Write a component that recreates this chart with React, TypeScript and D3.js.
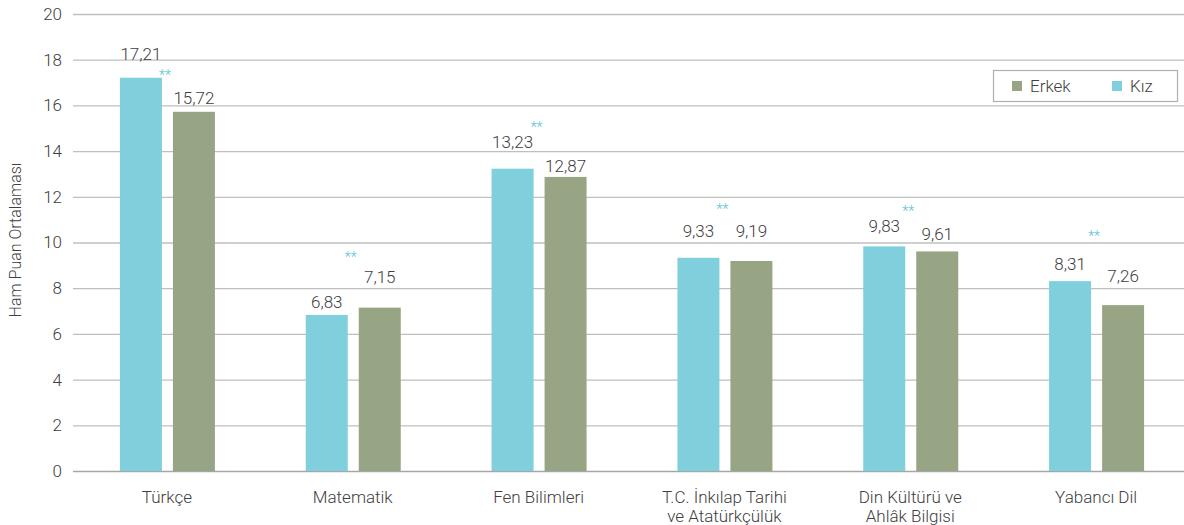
import React, { useEffect, useRef } from "react";
import * as d3 from "d3";

const categories = [
    ["Türkçe"],
    ["Matematik"],
    ["Fen Bilimleri"],
    ["T.C. İnkılap Tarihi", "ve Atatürkçülük"],
    ["Din Kültürü ve", "Ahlâk Bilgisi"],
    ["Yabancı Dil"],
];
const kizValues = [17.21, 6.83, 13.23, 9.33, 9.83, 8.31];
const erkekValues = [15.72, 7.15, 12.87, 9.19, 9.61, 7.26];
// where the "**" marks sit, in score units
const starLevels = [17.42, 9.45, 15.14, 11.55, 11.47, 10.37];
const yTicks = [0, 2, 4, 6, 8, 10, 12, 14, 16, 18, 20];

// hand-placed label lifts (px above bar top)
const kizLift = [18, 7, 21, 21, 14, 11];
const erkekLift = [8, 25, 5, 24, 11, 23];

const KIZ = "#7fd0dc";
const ERKEK = "#98a584";
const FONT = "Roboto, 'Noto Sans', sans-serif";

const drawChart = (ref: SVGSVGElement) => {
    const width = 1184;
    const height = 525;
    const svg = d3.select(ref).attr("width", width).attr("height", height);
    svg.selectAll("*").remove();

    const x = d3
        .scaleBand<number>()
        .domain(d3.range(categories.length))
        .range([74, 1189]);
    const y = d3.scaleLinear().domain([0, 20]).range([471, 14]);

    const g = svg.append("g").style("font-family", FONT).style("font-weight", 300);

    // gridlines
    g.append("g")
        .selectAll("line")
        .data(yTicks)
        .enter()
        .append("line")
        .attr("x1", 73)
        .attr("x2", width)
        .attr("y1", (d) => y(d) + 0.5)
        .attr("y2", (d) => y(d) + 0.5)
        .attr("stroke", (d) => (d === 0 ? "#a6a6a6" : "#bfbfbf"))
        .attr("stroke-width", 1.3);

    g.append("g")
        .selectAll("text")
        .data(yTicks)
        .enter()
        .append("text")
        .attr("x", 62)
        .attr("y", (d) => y(d))
        .attr("dy", "0.35em")
        .attr("text-anchor", "end")
        .attr("fill", "#404040")
        .style("font-size", "17px")
        .text((d) => d);

    g.append("text")
        .attr("transform", "translate(21,240) rotate(-90)")
        .attr("text-anchor", "middle")
        .attr("fill", "#404040")
        .style("font-size", "16px")
        .text("Ham Puan Ortalaması");

    const barW = 42;
    const kx = (i: number) => x(i)! + x.bandwidth() / 2 - 47;
    const ex = (i: number) => x(i)! + x.bandwidth() / 2 + 6;
    const fmt = (v: number) => v.toFixed(2).replace(".", ",");

    g.append("g")
        .selectAll("rect")
        .data(kizValues)
        .enter()
        .append("rect")
        .attr("x", (d, i) => kx(i))
        .attr("y", (d) => y(d))
        .attr("width", barW)
        .attr("height", (d) => y(0) - y(d))
        .attr("fill", KIZ);

    g.append("g")
        .selectAll("rect")
        .data(erkekValues)
        .enter()
        .append("rect")
        .attr("x", (d, i) => ex(i))
        .attr("y", (d) => y(d))
        .attr("width", barW)
        .attr("height", (d) => y(0) - y(d))
        .attr("fill", ERKEK);

    const labelStyle = (sel: any) =>
        sel.attr("text-anchor", "middle").attr("fill", "#404040").style("font-size", "17px");

    g.append("g")
        .selectAll("text")
        .data(kizValues)
        .enter()
        .append("text")
        .attr("x", (d, i) => kx(i) + barW / 2)
        .attr("y", (d, i) => y(d) - kizLift[i])
        .call(labelStyle)
        .text((d) => fmt(d));

    g.append("g")
        .selectAll("text")
        .data(erkekValues)
        .enter()
        .append("text")
        .attr("x", (d, i) => ex(i) + barW / 2)
        .attr("y", (d, i) => y(d) - erkekLift[i])
        .call(labelStyle)
        .text((d) => fmt(d));

    g.append("g")
        .selectAll("text")
        .data(starLevels)
        .enter()
        .append("text")
        .attr("x", (d, i) => x(i)! + x.bandwidth() / 2 - 2)
        .attr("y", (d) => y(d) + 7)
        .attr("text-anchor", "middle")
        .attr("fill", "#4fc3d6")
        .style("font-size", "14px")
        .text("**");

    // category labels
    const cat = g
        .append("g")
        .selectAll("text")
        .data(categories)
        .enter()
        .append("text")
        .attr("text-anchor", "middle")
        .attr("fill", "#404040")
        .style("font-size", "17px");
    cat.selectAll("tspan")
        .data((d) => d)
        .enter()
        .append("tspan")
        .attr("x", function () {
            const i = categories.indexOf(d3.select((this as any).parentNode).datum() as string[]);
            return x(i)! + x.bandwidth() / 2;
        })
        .attr("y", (d, j) => 503 + j * 19)
        .text((d) => d);

    // legend
    const leg = g.append("g");
    leg.append("rect")
        .attr("x", 993.5)
        .attr("y", 70.5)
        .attr("width", 184)
        .attr("height", 31)
        .attr("fill", "white")
        .attr("stroke", "#b0b0b0")
        .attr("stroke-width", 1.2);
    const items = [
        { name: "Erkek", color: ERKEK, x: 1012 },
        { name: "Kız", color: KIZ, x: 1112 },
    ];
    items.forEach((it) => {
        leg.append("rect").attr("x", it.x).attr("y", 81).attr("width", 10).attr("height", 10).attr("fill", it.color);
        leg.append("text")
            .attr("x", it.x + 18)
            .attr("y", 86)
            .attr("dy", "0.35em")
            .attr("fill", "#404040")
            .style("font-size", "17px")
            .text(it.name);
    });
};

export default function App() {
    const svgRef = useRef<SVGSVGElement>(null);
    useEffect(() => {
        if (svgRef.current) drawChart(svgRef.current);
    }, []);
    return (
        <svg
            ref={svgRef}
            style={{ position: "absolute", left: 0, top: 0, background: "white" }}
        />
    );
}
